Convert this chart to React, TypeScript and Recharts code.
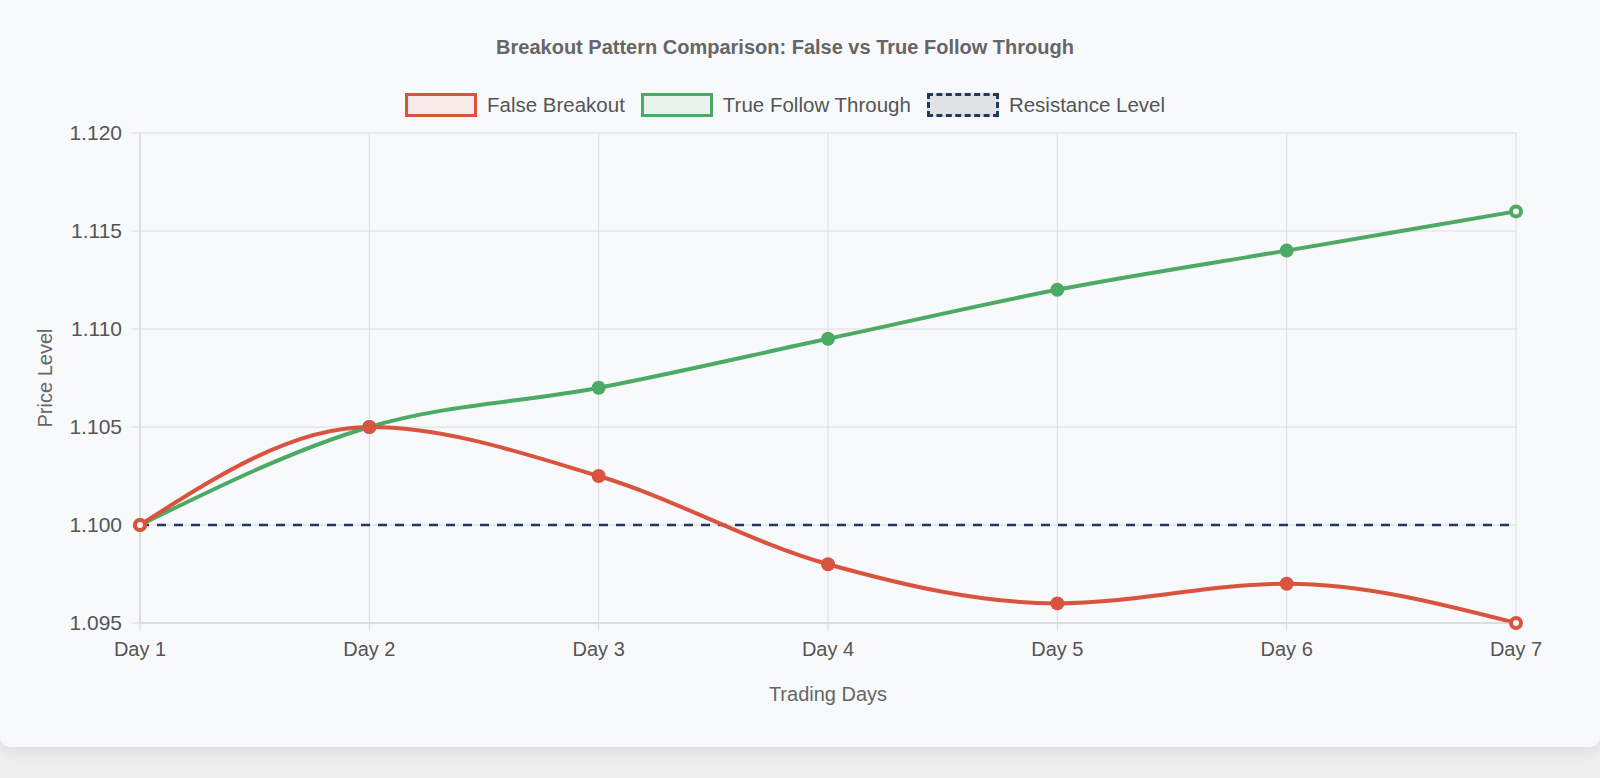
import { LineChart, Line, XAxis, YAxis, CartesianGrid, Label } from "recharts";

const days = ["Day 1", "Day 2", "Day 3", "Day 4", "Day 5", "Day 6", "Day 7"];
const falseBreakout = [1.1, 1.105, 1.1025, 1.098, 1.096, 1.097, 1.095];
const trueFollow = [1.1, 1.105, 1.107, 1.1095, 1.112, 1.114, 1.116];
const resistance = [1.1, 1.1, 1.1, 1.1, 1.1, 1.1, 1.1];
const yTicks = [1.095, 1.1, 1.105, 1.11, 1.115, 1.12];

const RED = "#d9533f";
const GREEN = "#4caa64";
const NAVY = "#1f3a5c";
const FONT = "'Liberation Sans', Arial, Helvetica, sans-serif";

const data = days.map((day, i) => ({
  day,
  falseBreakout: falseBreakout[i],
  trueFollow: trueFollow[i],
  resistance: resistance[i],
}));

const makeDot = (color: string) => (props: any) => {
  const { cx, cy, index } = props;
  const edge = index === 0 || index === days.length - 1;
  return (
    <g key={`d-${color}-${index}`}>
      <circle cx={cx} cy={cy} r={7} fill={color} />
      {edge && <circle cx={cx} cy={cy} r={3} fill="#f8f9fa" />}
    </g>
  );
};

const YTitle = (props: any) => {
  const { viewBox } = props;
  const y = viewBox.y + viewBox.height / 2;
  return (
    <text
      x={45}
      y={y}
      transform={`rotate(-90 45 ${y})`}
      textAnchor="middle"
      dominantBaseline="central"
      fill="#666"
      fontSize={20}
      fontFamily={FONT}
    >
      Price Level
    </text>
  );
};

const legendItems = [
  { label: "False Breakout", border: `3px solid ${RED}`, fill: "#f7e9e7" },
  { label: "True Follow Through", border: `3px solid ${GREEN}`, fill: "#e8f3eb" },
  { label: "Resistance Level", border: `3px dashed ${NAVY}`, fill: "#e0e1e2" },
];

export default function App() {
  return (
    <div
      style={{
        position: "fixed",
        left: 0,
        top: 0,
        width: 1600,
        height: 778,
        background: "#eeeeee",
        fontFamily: FONT,
        overflow: "hidden",
      }}
    >
      <div
        style={{
          position: "absolute",
          left: 0,
          top: -10,
          width: 1600,
          height: 757,
          background: "#f8f9fb",
          borderRadius: 10,
          boxShadow: "0 4px 16px rgba(0,0,0,0.08)",
        }}
      >
        <div
          style={{
            position: "absolute",
            top: 46,
            left: 0,
            width: 1570,
            textAlign: "center",
            fontWeight: "bold",
            fontSize: 20,
            color: "#666",
          }}
        >
          Breakout Pattern Comparison: False vs True Follow Through
        </div>
        <div
          style={{
            position: "absolute",
            top: 103,
            left: 0,
            width: 1570,
            display: "flex",
            justifyContent: "center",
            gap: 16,
          }}
        >
          {legendItems.map((it) => (
            <div key={it.label} style={{ display: "flex", alignItems: "center", gap: 10 }}>
              <div
                style={{
                  width: 66,
                  height: 18,
                  border: it.border,
                  background: it.fill,
                }}
              />
              <span style={{ fontSize: 20.5, color: "#555" }}>{it.label}</span>
            </div>
          ))}
        </div>
        <div style={{ position: "absolute", left: 0, top: 10 }}>
          <LineChart
            width={1600}
            height={745}
            data={data}
            margin={{ top: 133, right: 84, bottom: 0, left: 0 }}
          >
            <CartesianGrid stroke="#dcdcdf" />
            <XAxis
              dataKey="day"
              height={122}
              tickSize={8}
              tickMargin={11}
              tick={{ fill: "#555", fontSize: 20, fontFamily: FONT }}
              tickLine={{ stroke: "#dcdcdf" }}
              axisLine={{ stroke: "#cfcfd3" }}
            >
              <Label
                value="Trading Days"
                position="insideBottom"
                offset={44}
                fill="#666"
                fontSize={20}
                fontFamily={FONT}
              />
            </XAxis>
            <YAxis
              width={140}
              domain={[1.095, 1.12]}
              ticks={yTicks}
              tickFormatter={(v: number) => v.toFixed(3)}
              tickSize={8}
              tickMargin={10}
              tick={{ fill: "#555", fontSize: 21, fontFamily: FONT }}
              tickLine={{ stroke: "#dcdcdf" }}
              axisLine={{ stroke: "#cfcfd3" }}
            >
              <Label content={YTitle} />
            </YAxis>
            <Line
              dataKey="resistance"
              stroke={NAVY}
              strokeWidth={2.5}
              strokeDasharray="9 8"
              dot={false}
              isAnimationActive={false}
            />
            <Line
              type="monotone"
              dataKey="trueFollow"
              stroke={GREEN}
              strokeWidth={4}
              dot={makeDot(GREEN)}
              isAnimationActive={false}
            />
            <Line
              type="monotone"
              dataKey="falseBreakout"
              stroke={RED}
              strokeWidth={4}
              dot={makeDot(RED)}
              isAnimationActive={false}
            />
          </LineChart>
        </div>
      </div>
    </div>
  );
}
